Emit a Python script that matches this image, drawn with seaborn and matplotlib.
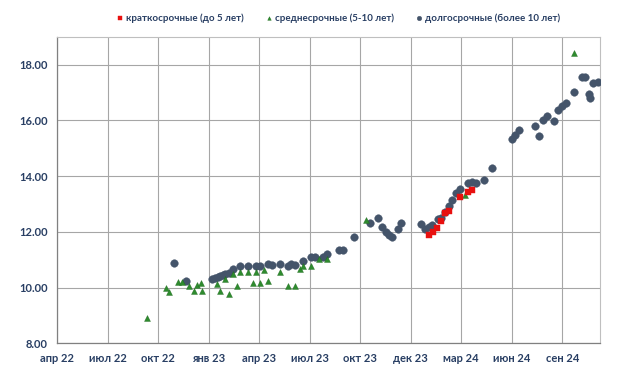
import matplotlib
matplotlib.use("Agg")
import matplotlib.pyplot as plt
import seaborn as sns
import pandas as pd

# ---- data ----
short_dates = ["2024-02-01", "2024-02-08", "2024-02-15", "2024-02-22", "2024-02-29",
               "2024-03-08", "2024-03-28", "2024-04-12", "2024-04-19"]
short_vals = [11.88, 12.01, 12.13, 12.40, 12.66, 12.74, 13.24, 13.42, 13.52]

mid_dates = ["2022-09-10", "2022-10-14", "2022-10-21", "2022-11-05", "2022-11-12",
             "2022-11-26", "2022-12-04", "2022-12-10", "2022-12-17", "2022-12-19",
             "2023-01-14", "2023-01-21", "2023-01-29", "2023-02-05", "2023-02-12",
             "2023-02-19", "2023-02-26", "2023-03-12", "2023-03-20", "2023-03-26",
             "2023-04-03", "2023-04-10", "2023-04-17", "2023-05-08", "2023-05-22",
             "2023-06-05", "2023-06-13", "2023-06-19", "2023-07-03", "2023-07-18",
             "2023-08-01", "2023-10-11", "2024-04-05", "2024-10-19"]
mid_vals = [8.92, 10.00, 9.85, 10.18, 10.18,
            10.07, 9.86, 10.10, 10.16, 9.89,
            10.13, 9.89, 10.31, 9.77, 10.48,
            10.04, 10.54, 10.54, 10.16, 10.54,
            10.15, 10.63, 10.22, 10.57, 10.05,
            10.07, 10.65, 10.77, 10.77, 11.01,
            11.02, 12.41, 13.32, 18.42]

long_dates = ["2022-10-29", "2022-11-19", "2023-01-06", "2023-01-11", "2023-01-16",
              "2023-01-21", "2023-01-25", "2023-01-30", "2023-02-05", "2023-02-12",
              "2023-02-26", "2023-03-12", "2023-03-26", "2023-04-02", "2023-04-17",
              "2023-04-24", "2023-05-08", "2023-05-22", "2023-05-29", "2023-06-05",
              "2023-06-19", "2023-07-03", "2023-07-10", "2023-07-24", "2023-08-01",
              "2023-08-22", "2023-08-29", "2023-09-19", "2023-10-18", "2023-11-01",
              "2023-11-08", "2023-11-15", "2023-11-21", "2023-11-27", "2023-12-07",
              "2023-12-13", "2024-01-18", "2024-01-24", "2024-01-31", "2024-02-07",
              "2024-02-17", "2024-02-22", "2024-02-29", "2024-03-08", "2024-03-14",
              "2024-03-21", "2024-03-28", "2024-04-11", "2024-04-19", "2024-04-26",
              "2024-05-10", "2024-05-24", "2024-06-29", "2024-07-05", "2024-07-13",
              "2024-08-10", "2024-08-17", "2024-08-24", "2024-09-01", "2024-09-14",
              "2024-09-21", "2024-09-28", "2024-10-04", "2024-10-19", "2024-11-02",
              "2024-11-09", "2024-11-16", "2024-11-17", "2024-11-23", "2024-12-01"]
long_vals = [10.89, 10.25, 10.29, 10.34, 10.37,
             10.41, 10.45, 10.48, 10.53, 10.68,
             10.76, 10.76, 10.76, 10.78, 10.84,
             10.81, 10.83, 10.76, 10.85, 10.80,
             10.94, 11.08, 11.10, 11.08, 11.19,
             11.35, 11.36, 11.83, 12.31, 12.50,
             12.18, 11.99, 11.87, 11.82, 12.09,
             12.30, 12.28, 12.09, 12.18, 12.26,
             12.45, 12.50, 12.72, 12.93, 13.15,
             13.40, 13.54, 13.74, 13.79, 13.76,
             13.87, 14.29, 15.35, 15.47, 15.65,
             15.80, 15.46, 16.00, 16.16, 15.99,
             16.37, 16.52, 16.64, 17.04, 17.56,
             17.56, 16.94, 16.80, 17.33, 17.37]

series_labels = ["краткосрочные (до 5 лет)", "среднесрочные (5-10 лет)", "долгосрочные (более 10 лет)"]
x_tick_labels = ["апр 22", "июл 22", "окт 22", "янв 23", "апр 23", "июл 23",
                 "окт 23", "дек 23", "мар 24", "июн 24", "сен 24"]
y_ticks = [8, 10, 12, 14, 16, 18]

# ---- figure ----
sns.set_theme(style="white")
plt.rcParams["font.family"] = ["Lato", "DejaVu Sans"]
text_color = "#283E63"

fig = plt.figure(figsize=(6.2, 3.79), dpi=100)
ax = fig.add_axes([0.0926, 0.0945, 0.875, 0.808])

df_s = pd.DataFrame({"date": pd.to_datetime(short_dates), "val": short_vals})
df_m = pd.DataFrame({"date": pd.to_datetime(mid_dates), "val": mid_vals})
df_l = pd.DataFrame({"date": pd.to_datetime(long_dates), "val": long_vals})

sns.scatterplot(data=df_l, x="date", y="val", ax=ax, marker="o", s=30,
                color="#44546A", edgecolor="#44546A", linewidth=0.3,
                label=series_labels[2], zorder=3)
sns.scatterplot(data=df_m, x="date", y="val", ax=ax, marker="^", s=18,
                color="#2E8B2E", edgecolor="#1E6B1E", linewidth=0.3,
                label=series_labels[1], zorder=4)
sns.scatterplot(data=df_s, x="date", y="val", ax=ax, marker="s", s=20,
                color="#E8100F", edgecolor="#E8100F", linewidth=0.3,
                label=series_labels[0], zorder=5)

start = pd.Timestamp("2022-04-02")
tick_pos = [start + pd.Timedelta(days=91 * k) for k in range(len(x_tick_labels))]
ax.set_xlim(start, pd.Timestamp("2024-12-05"))
ax.set_xticks(tick_pos)
ax.set_xticklabels(x_tick_labels)
ax.set_ylim(8, 19)
ax.set_yticks(y_ticks)
ax.set_yticklabels([f"{v:.2f}" for v in y_ticks])
ax.set_xlabel("")
ax.set_ylabel("")

ax.grid(True, color="#A6A6A6", linewidth=0.8)
ax.set_axisbelow(True)
for side in ["top", "right"]:
    ax.spines[side].set_color("#BFBFBF")
    ax.spines[side].set_linewidth(0.8)
for side in ["left", "bottom"]:
    ax.spines[side].set_color("#808080")
    ax.spines[side].set_linewidth(0.9)

ax.tick_params(axis="both", which="major", direction="out", length=4, width=0.8,
               color="#808080", labelsize=8, labelcolor=text_color, pad=3)
for lbl in ax.get_xticklabels() + ax.get_yticklabels():
    lbl.set_fontweight("bold")

handles, labels = ax.get_legend_handles_labels()
order = [labels.index(l) for l in series_labels]
ax.legend([handles[i] for i in order], [labels[i] for i in order],
          loc="center", bbox_to_anchor=(0.544, 0.952), bbox_transform=fig.transFigure,
          ncol=3, frameon=False, handletextpad=0.0, handlelength=1.2,
          columnspacing=2.0, markerscale=0.6, labelcolor=text_color,
          prop={"weight": "bold", "size": 7})

fig.savefig("out.png", dpi=100)
